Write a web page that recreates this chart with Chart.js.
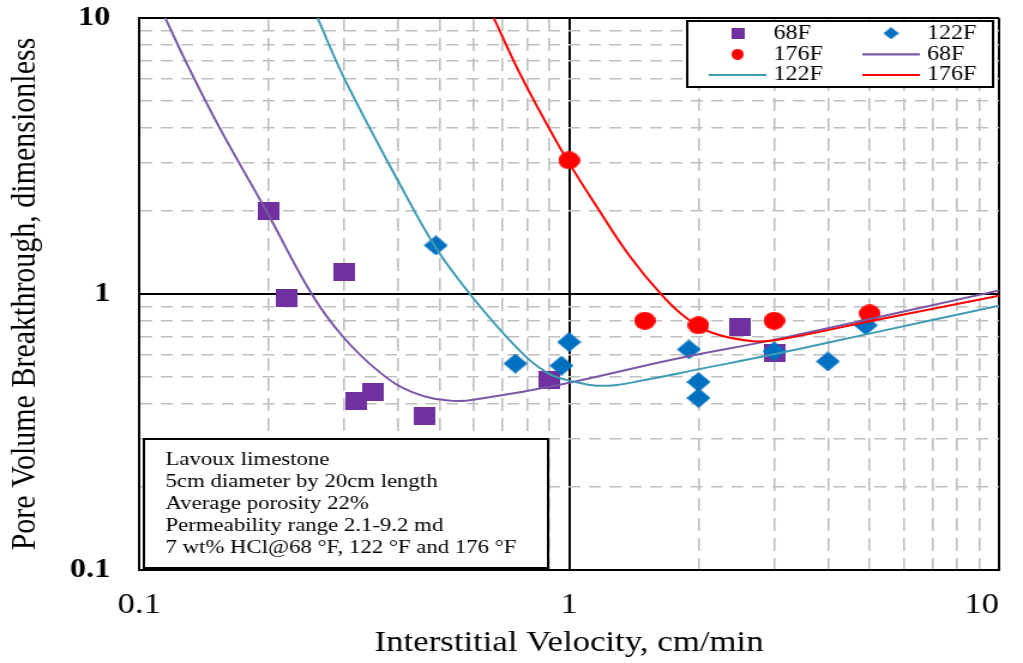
<!DOCTYPE html>
<html lang="en">
<head>
<meta charset="utf-8">
<title>Pore Volume Breakthrough vs Interstitial Velocity</title>
<script src="https://cdn.jsdelivr.net/npm/chart.js@4.4.1/dist/chart.umd.min.js"></script>
<style>
  html, body { margin: 0; padding: 0; background: #ffffff; overflow: hidden; }
</style>
</head>
<body>
<!-- the canvas is drawn 853 wide and widened to 1023 by css -->
<canvas id="breakthrough" width="853" height="663" style="width:1023px;height:663px;display:block"></canvas>
<script>
// measured points, cm/min vs pore volumes
const velocity68 = [0.2, 0.22, 0.3, 0.32, 0.35, 0.46, 0.9, 2.5, 3.0];
const breakthrough68 = [2.0, 0.97, 1.2, 0.41, 0.44, 0.36, 0.49, 0.76, 0.61];
const velocity122 = [0.49, 0.75, 0.96, 1.0, 1.9, 2.0, 2.0, 3.0, 4.0, 4.9];
const breakthrough122 = [1.5, 0.56, 0.55, 0.67, 0.63, 0.48, 0.42, 0.62, 0.57, 0.77];
const velocity176 = [1.0, 1.5, 2.0, 3.0, 5.0];
const breakthrough176 = [3.05, 0.8, 0.77, 0.8, 0.85];

// fitted curves
const fitVelocity68 = [0.115, 0.129, 0.154, 0.198, 0.252, 0.298, 0.363, 0.433, 0.536, 0.62, 0.951, 1.81, 3.09, 10];
const fitBreakthrough68 = [10, 6.85, 3.99, 1.99, 1.0, 0.7, 0.52, 0.44, 0.41, 0.417, 0.469, 0.586, 0.689, 1.03];
const fitVelocity122 = [0.26, 0.301, 0.404, 0.49, 0.588, 0.748, 0.886, 1.02, 1.22, 1.51, 1.98, 3.09, 5.28, 10];
const fitBreakthrough122 = [10, 5.98, 2.5, 1.47, 1.0, 0.65, 0.52, 0.482, 0.465, 0.489, 0.532, 0.611, 0.732, 0.907];
const fitVelocity176 = [0.668, 0.768, 0.902, 1.0, 1.158, 1.384, 1.654, 1.875, 2.16, 2.68, 3.09, 5.28, 10];
const fitBreakthrough176 = [10, 6.3, 3.94, 2.98, 2.08, 1.37, 0.98, 0.818, 0.722, 0.674, 0.684, 0.81, 0.986];

// log grid, 1..9 per decade, and the values that get a label
const gridValues = [0.1, 0.2, 0.3, 0.4, 0.5, 0.6, 0.7, 0.8, 0.9, 1, 2, 3, 4, 5, 6, 7, 8, 9, 10];
const labeledValues = [0.1, 1, 10];

const noteLines = [
  "Lavoux limestone",
  "5cm diameter by 20cm length",
  "Average porosity 22%",
  "Permeability range 2.1-9.2 md",
  "7 wt% HCl@68 °F, 122 °F and 176 °F",
];

const serif = "'Liberation Serif', 'Times New Roman', serif";
const purple = "#7030A0";
const blue = "#0070C0";
const red = "#FF0000";

function isLabeled(value) {
  return labeledValues.some((v) => Math.abs(value / v - 1) < 1e-6);
}

function toPoints(xs, ys) {
  return xs.map((x, i) => ({ x: x, y: ys[i] }));
}

function makeMarker(shape, w, h, color) {
  const c = document.createElement("canvas");
  c.width = w;
  c.height = h;
  const g = c.getContext("2d");
  g.fillStyle = color;
  g.beginPath();
  if (shape === "square") {
    g.rect(0, 0, w, h);
  } else if (shape === "diamond") {
    g.moveTo(w / 2, 0);
    g.lineTo(w, h / 2);
    g.lineTo(w / 2, h);
    g.lineTo(0, h / 2);
    g.closePath();
  } else {
    g.ellipse(w / 2, h / 2, w / 2, h / 2, 0, 0, Math.PI * 2);
  }
  g.fill();
  return c;
}

const markers = [
  makeMarker("square", 18, 18, purple),
  makeMarker("diamond", 20, 20, blue),
  makeMarker("circle", 18, 18, red),
];
const legendMarkers = [
  makeMarker("square", 11, 11, purple),
  makeMarker("diamond", 13, 12, blue),
  makeMarker("circle", 10, 11, red),
];

const gridColor = (c) => (c.tick && isLabeled(c.tick.value) ? "#000000" : "#BFBFBF");
const gridWidth = (c) => (c.tick && isLabeled(c.tick.value) ? 2 : 1.6);
const dashFor = (pattern) => (c) => (c.tick && !isLabeled(c.tick.value) ? pattern : []);
const tickLabel = (v) => (isLabeled(v) ? String(v) : "");
// the last x label sits inside the right edge
const xTickLabel = (v) => (Math.abs(v - 10) < 1e-6 ? "10\u2002\u2002" : tickLabel(v));

// keep tick labels from pushing the plot area inwards
function noLabelPadding(scale) {
  scale.paddingTop = 0;
  scale.paddingBottom = 0;
  scale.paddingLeft = 0;
  scale.paddingRight = 0;
}

// legend and the sample description box
const overlayBoxes = {
  id: "overlayBoxes",
  afterDraw(chart) {
    const ctx = chart.ctx;
    const cols = [615, 743];
    const textX = [645, 773];
    const rows = [33.3, 54.3, 75];
    ctx.save();

    ctx.fillStyle = "#ffffff";
    ctx.fillRect(573, 21, 255, 66);
    ctx.lineWidth = 2;
    ctx.strokeStyle = "#000000";
    ctx.strokeRect(573, 21, 255, 66);

    ctx.font = "20px " + serif;
    ctx.textBaseline = "middle";
    chart.data.datasets.forEach((ds, i) => {
      const col = i % 2;
      const cy = rows[Math.floor(i / 2)];
      const cx = cols[col];
      if (ds.showLine) {
        ctx.strokeStyle = ds.borderColor;
        ctx.lineWidth = 2.2;
        ctx.beginPath();
        ctx.moveTo(cx - 24, cy);
        ctx.lineTo(cx + 24, cy);
        ctx.stroke();
      } else {
        const m = legendMarkers[i];
        ctx.drawImage(m, cx - m.width / 2, cy - m.height / 2);
      }
      ctx.fillStyle = "#000000";
      ctx.fillText(ds.label, textX[col], cy);
    });

    ctx.fillStyle = "#ffffff";
    ctx.fillRect(120, 439, 337, 129);
    ctx.lineWidth = 2;
    ctx.strokeStyle = "#000000";
    ctx.strokeRect(120, 439, 337, 129);
    ctx.font = "19px " + serif;
    ctx.fillStyle = "#000000";
    noteLines.forEach((line, i) => {
      ctx.fillText(line, 138, 460 + i * 22);
    });
    ctx.restore();
  },
};

const chart = new Chart(document.querySelector("#breakthrough"), {
  type: "scatter",
  data: {
    datasets: [
      { label: "68F", data: toPoints(velocity68, breakthrough68), pointStyle: markers[0], pointRadius: 10, showLine: false, order: 5 },
      { label: "122F", data: toPoints(velocity122, breakthrough122), pointStyle: markers[1], pointRadius: 10, showLine: false, order: 4 },
      { label: "176F", data: toPoints(velocity176, breakthrough176), pointStyle: markers[2], pointRadius: 10, showLine: false, order: 3 },
      {
        label: "68F",
        data: toPoints(fitVelocity68, fitBreakthrough68),
        showLine: true,
        borderColor: "#7A58A6",
        borderWidth: 2,
        pointRadius: 0,
        tension: 0.4,
        order: 2,
      },
      {
        label: "122F",
        data: toPoints(fitVelocity122, fitBreakthrough122),
        showLine: true,
        borderColor: "#3F9BB4",
        borderWidth: 2,
        pointRadius: 0,
        tension: 0.4,
        order: 1,
      },
      {
        label: "176F",
        data: toPoints(fitVelocity176, fitBreakthrough176),
        showLine: true,
        borderColor: red,
        borderWidth: 2,
        pointRadius: 0,
        tension: 0.4,
        order: 0,
      },
    ],
  },
  options: {
    responsive: false,
    animation: false,
    events: [],
    layout: { padding: { top: 18, right: 20, left: 0, bottom: 0 } },
    plugins: {
      legend: { display: false },
      tooltip: { enabled: false },
    },
    scales: {
      x: {
        type: "logarithmic",
        position: "bottom",
        min: 0.1,
        max: 10,
        afterBuildTicks: (scale) => {
          scale.ticks = gridValues.map((v) => ({ value: v }));
        },
        afterFit: (scale) => {
          scale.height = 93;
          noLabelPadding(scale);
        },
        ticks: {
          autoSkip: false,
          maxRotation: 0,
          padding: 18,
          color: "#000000",
          font: { family: serif, size: 29 },
          callback: xTickLabel,
        },
        grid: { drawTicks: false, color: gridColor, lineWidth: gridWidth },
        border: { color: "#000000", width: 2, dash: dashFor([13, 7]) },
        title: {
          display: true,
          text: "Interstitial Velocity, cm/min",
          color: "#000000",
          font: { family: serif, size: 29 },
          padding: { top: 0, bottom: 2 },
        },
      },
      y: {
        type: "logarithmic",
        min: 0.1,
        max: 10,
        afterBuildTicks: (scale) => {
          scale.ticks = gridValues.map((v) => ({ value: v }));
        },
        afterFit: (scale) => {
          scale.width = 116;
          noLabelPadding(scale);
        },
        ticks: {
          autoSkip: false,
          padding: 24,
          color: "#000000",
          font: { family: serif, size: 27, weight: "bold" },
          callback: tickLabel,
        },
        grid: { drawTicks: false, color: gridColor, lineWidth: gridWidth },
        border: { color: "#000000", width: 2, dash: dashFor([10, 7]) },
        title: {
          display: true,
          text: "Pore Volume Breakthrough, dimensionless",
          color: "#000000",
          font: { family: serif, size: 30 },
          padding: { top: 3, bottom: 0 },
        },
      },
    },
  },
  plugins: [overlayBoxes],
});
</script>
</body>
</html>
